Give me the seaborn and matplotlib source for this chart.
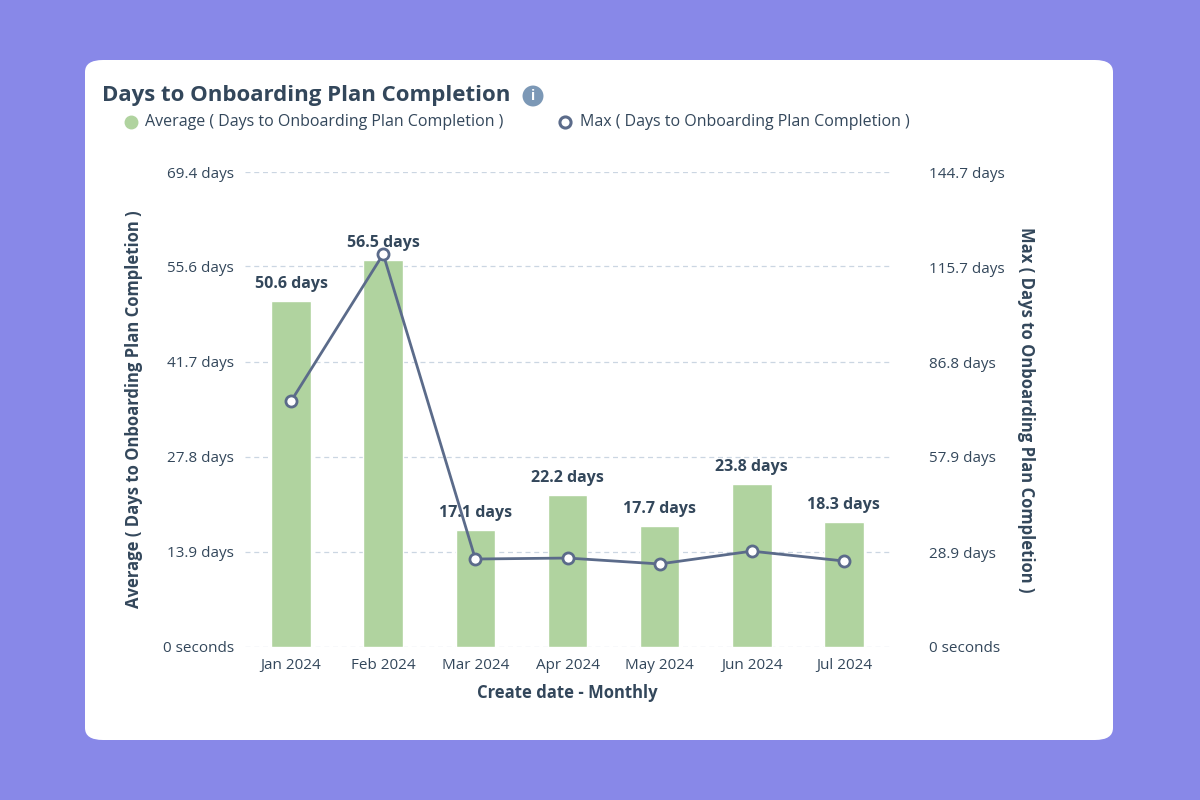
import matplotlib
matplotlib.use("Agg")
import matplotlib.pyplot as plt
import seaborn as sns
import numpy as np
from matplotlib.patches import FancyBboxPatch

months = ["Jan 2024", "Feb 2024", "Mar 2024", "Apr 2024", "May 2024", "Jun 2024", "Jul 2024"]
avg_days = [50.6, 56.5, 17.1, 22.2, 17.7, 23.8, 18.3]
max_days = [74.9, 119.7, 26.8, 27.1, 25.3, 29.2, 26.2]
left_ticks = [0, 13.9, 27.8, 41.7, 55.6, 69.4]
right_ticks = [0, 28.9, 57.9, 86.8, 115.7, 144.7]

sns.set_style("white")
plt.rcParams['font.family'] = ['Open Sans', 'DejaVu Sans']
TXT = "#33475B"
BAR = "#B0D39F"
LINE = "#5B6B8A"

fig = plt.figure(figsize=(12, 8), dpi=100)
fig.patch.set_facecolor("#8888E8")
card = FancyBboxPatch((85/1200, 60/800), 1028/1200, 680/800,
                      boxstyle="round,pad=0,rounding_size=0.015",
                      transform=fig.transFigure, facecolor="white", edgecolor="none",
                      zorder=-10)
fig.patches.append(card)

ax = fig.add_axes([245/1200, 153/800, 645/1200, 475/800])
ax.set_facecolor("none")
sns.barplot(x=months, y=avg_days, color=BAR, width=0.43, ax=ax, saturation=1)
ax.set_ylim(0, 69.4)
ax.set_yticks(left_ticks)
ax.set_yticklabels(["0 seconds"] + [f"{t} days" for t in left_ticks[1:]])
ax.set_xlim(-0.5, 6.5)
ax.grid(axis="y", color="#CBD6E2", linestyle=(0, (4, 3)), linewidth=0.9)
ax.set_axisbelow(True)
for s in ax.spines.values():
    s.set_visible(False)
ax.tick_params(axis="both", colors=TXT, labelsize=11, length=0, pad=8)
ax.set_xlabel("Create date - Monthly", color=TXT, fontsize=12, fontweight="bold", labelpad=8)
ax.set_ylabel("Average ( Days to Onboarding Plan Completion )", color=TXT, fontsize=12,
              fontweight="bold", labelpad=14)
for i, v in enumerate(avg_days):
    ax.text(i, v + 1.3, f"{v} days", ha="center", va="bottom", color=TXT,
            fontsize=11.5, fontweight="bold")

ax2 = ax.twinx()
sns.lineplot(x=np.arange(len(months)), y=max_days, ax=ax2, color=LINE, linewidth=2,
             marker="o", markersize=8, markerfacecolor="white", markeredgecolor=LINE,
             markeredgewidth=2)
ax2.set_ylim(0, 144.7)
ax2.set_yticks(right_ticks)
ax2.set_yticklabels(["0 seconds"] + [f"{t} days" for t in right_ticks[1:]])
for s in ax2.spines.values():
    s.set_visible(False)
ax2.tick_params(axis="y", colors=TXT, labelsize=11, length=0, pad=28)
ax2.set_ylabel("Max ( Days to Onboarding Plan Completion )", color=TXT, fontsize=12,
               fontweight="bold", rotation=270, labelpad=22)

fig.text(102/1200, 1 - 96/800, "Days to Onboarding Plan Completion", color=TXT,
         fontsize=16, fontweight="bold", va="center")
fig.text(533/1200, 1 - 96/800, "i", color="white", fontsize=10, fontweight="bold",
         ha="center", va="center",
         bbox=dict(boxstyle="circle,pad=0.25", facecolor="#7C98B6", edgecolor="none"))
fig.lines.append(plt.Line2D([131/1200], [1 - 122/800], marker="o", markersize=9,
                            color=BAR, linestyle="none", transform=fig.transFigure))
fig.text(145/1200, 1 - 122/800, "Average ( Days to Onboarding Plan Completion )",
         color=TXT, fontsize=11.5, va="center")
fig.lines.append(plt.Line2D([565/1200], [1 - 122/800], marker="o", markersize=8,
                            markerfacecolor="white", markeredgecolor=LINE, markeredgewidth=2.2,
                            linestyle="none", transform=fig.transFigure))
fig.text(580/1200, 1 - 122/800, "Max ( Days to Onboarding Plan Completion )",
         color=TXT, fontsize=11.5, va="center")

fig.savefig("out.png", dpi=100, facecolor=fig.get_facecolor())
